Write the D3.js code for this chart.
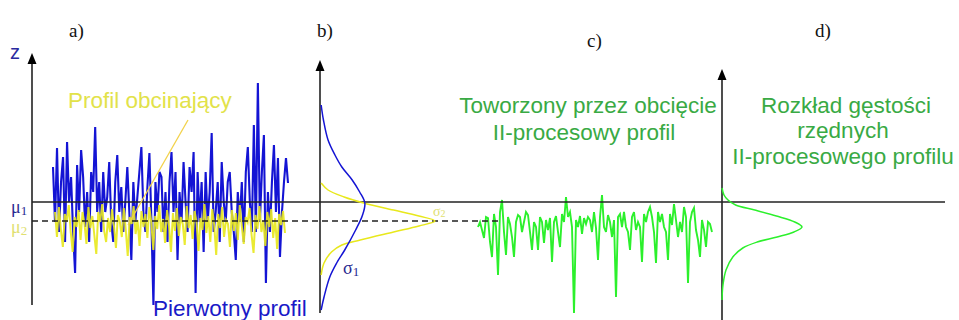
<!DOCTYPE html>
<html><head><meta charset="utf-8">
<script src="https://cdn.jsdelivr.net/npm/d3@7"></script>
<style>body{margin:0;background:#fff}svg{display:block}</style>
</head><body>
<script>
// ---- data (z in arbitrary height units, 0 = mean line mu1) ----
const primaryProfile = [3.5,-2,5.4,-3,2,4.5,-4,6,0,2.5,-3,-7.1,3.7,-1,5.2,2.5,-2.5,1,-4,3,1,7.5,-1,2,-3,3,-1,0.5,4,-2,-4,2,4.7,-1,1.5,-3,0,3.5,-1,-5.8,2,-2,0.5,3,5.5,-1,-3,1.5,4.9,-2,-10.3,2,-1,3,2.5,-3,1,-4,2,5,-1,3,-5.8,1,-2,4,0,-3,3.5,1,5,-9.1,3,-2,2,-5,3,-2,1,6.9,-3,-1,2,-4,4,0,-2,2,3,-1,-3,-5.8,1,-2,2,-4,3,5.5,0,-3,7.7,-3,11.9,-2,3,6.7,-8.1,1,-3,2,5.7,-1,4.4,-5.5,-1,2,4.4,1.9];
const cuttingProfile = [-1.0,-3.5,-0.5,-2.8,-4.5,-1.2,-2.0,-0.3,-3.0,-5.0,-1.5,-2.5,-0.8,-3.8,-1.0,-2.2,-4.2,-0.5,-2.6,-1.4,-3.3,-5.2,-1.0,-2.0,-0.2,-2.9,-4.0,-1.6,-3.0,-0.7,-2.4,-4.6,-1.3,-2.0,-3.5,-0.6,-2.8,-5.4,-1.5,-2.2,-0.4,-3.2,-1.8,-4.4,-0.9,-2.5,-1.2,-3.6,-0.5,-2.1,-4.8,-1.4,-2.7,-0.3,-3.0,-1.7,-4.1,-0.8,-2.4,-5.0,-1.1,-2.9,-0.6,-3.4,-1.5,-2.2,-4.3,-0.4,-2.6,-1.3,-3.7,-0.9,-2.0,-4.9,-1.6,-2.8,-0.2,-3.1,-1.4,-4.0,-0.7,-2.3,-5.3,-1.2,-2.6,-0.5,-3.5,-1.8,-2.2,-4.5,-0.8,-2.9,-1.1,-3.8,-0.3,-2.4,-4.2,-1.5,-2.0,-0.6,-3.3,-5.1,-1.3,-2.7,-0.4,-3.0,-1.9,-4.4,-1.0,-2.5,-0.7,-3.6,-1.6,-4.7,-1.2,-2.3,-0.9,-3.1];
const twoProcessProfile = [-2.5,-2.0,-2.8,-3.6,-1.5,-1.6,-4.0,-5.5,-1.2,-2.5,-7.3,-1.0,0.2,-3.0,-5.3,-1.5,-2.2,-3.5,-5.5,-2.0,-1.3,-1.5,-3.0,-2.0,-1.0,-1.3,-3.0,-4.8,-2.0,-2.5,-4.8,-1.5,-2.0,-4.1,-1.8,-2.8,-1.6,-6.0,-2.0,-1.4,-3.0,-4.5,-1.2,-2.0,0.5,-1.5,-1.0,-2.5,-11.1,-1.8,-2.5,-1.4,-3.2,-1.6,-2.2,-1.5,-1.8,-3.0,-1.0,-2.6,-5.8,-1.5,0.7,-2.5,-3.0,-1.3,-2.0,-3.5,-1.8,-9.5,-1.5,-1.2,-2.5,-1.0,-2.5,-3.0,-4.8,-1.5,-1.0,-2.8,-2.0,-2.5,-6.0,-1.2,-2.0,-1.0,-0.5,-1.5,-3.0,-6.1,-1.0,-2.0,-1.2,-2.5,-3.0,-5.8,-1.2,-2.3,-0.2,-1.8,-3.5,-2.0,-3.0,-0.5,-1.5,-8.1,-2.0,-1.0,-0.6,-2.8,-3.8,-5.5,-1.8,-2.8,-4.5,-2.0,-2.2,-3.0];
const mu2 = -1.9;
// densities: [z, relative density]
const densityPrimaryZ = [9.7,8.2,6.2,4.7,3.5,2.2,1.0,-0.1,-1.3,-2.8,-4.8,-6.1,-7.5,-9.5,-10.8];
const densityPrimary  = [0.01,0.03,0.07,0.13,0.19,0.28,0.345,0.39,0.37,0.31,0.215,0.145,0.085,0.035,0.01];
const densityCuttingZ = [1.9,1.2,0.5,-0.1,-0.8,-1.4,-1.9,-2.4,-3.0,-3.8,-4.3,-5.0,-6.1,-7.3];
const densityCutting  = [0.01,0.07,0.21,0.38,0.64,0.86,1.0,0.86,0.64,0.35,0.19,0.10,0.035,0.01];
const densityTwoZ = [1.4,0.7,0.2,-0.3,-0.8,-1.4,-2.0,-2.5,-3.0,-3.5,-4.0,-4.6,-5.5,-6.8,-8.3,-9.8];
const densityTwo  = [0.0,0.025,0.075,0.17,0.41,0.68,0.91,1.0,0.9,0.69,0.44,0.26,0.135,0.05,0.012,0.0];
const panelLabels = ["a)","b)","c)","d)"];

// ---- drawing ----
const W=959,H=320;
const svg=d3.select("body").append("svg").attr("width",W).attr("height",H);
const y=d3.scaleLinear().domain([-10,15]).range([302,52]);
const BLUE="#1414d4", YEL="#e8e81c", GREEN="#2cf02c", TGREEN="#39aa44", DARK="#222";

const serif="'Liberation Serif','Times New Roman',serif";
const sans="'Liberation Sans',Arial,sans-serif";
const labelPos=[[69,37],[317,37],[587,47],[815,37]];
panelLabels.forEach((t,i)=>svg.append("text").attr("x",labelPos[i][0]).attr("y",labelPos[i][1])
  .attr("font-family",serif).attr("font-size",19).attr("fill","#111").text(t));

function vAxis(x,top,bottom){
  svg.append("line").attr("x1",x).attr("x2",x).attr("y1",top+8).attr("y2",bottom).attr("stroke",DARK).attr("stroke-width",1.6);
  svg.append("path").attr("d",`M${x},${top}L${x-4.5},${top+11}L${x+4.5},${top+11}Z`).attr("fill","#000");
}
vAxis(32,53,305); vAxis(320,60,313); vAxis(722,69,320);
svg.append("text").attr("x",10).attr("y",59).attr("font-family",sans).attr("font-size",20).attr("fill","#2a2aa0").text("z");

// profiles
const xA=d3.scaleLinear().domain([0,primaryProfile.length-1]).range([53,288]);
const xY=d3.scaleLinear().domain([0,cuttingProfile.length-1]).range([55,285]);
const xC=d3.scaleLinear().domain([0,twoProcessProfile.length-1]).range([478,712]);
const line=(xs)=>d3.line().x((d,i)=>xs(i)).y(d=>y(d));
svg.append("path").datum(primaryProfile).attr("d",line(xA)).attr("fill","none").attr("stroke",BLUE).attr("stroke-width",2.1);
svg.append("path").datum(cuttingProfile).attr("d",line(xY)).attr("fill","none").attr("stroke",YEL).attr("stroke-width",2).attr("opacity",0.9);
svg.append("path").datum(twoProcessProfile).attr("d",line(xC)).attr("fill","none").attr("stroke",GREEN).attr("stroke-width",1.9);

// mean lines
svg.append("line").attr("x1",32).attr("x2",945).attr("y1",y(0)).attr("y2",y(0)).attr("stroke",DARK).attr("stroke-width",1.4);
svg.append("line").attr("x1",32).attr("x2",498).attr("y1",y(mu2)).attr("y2",y(mu2)).attr("stroke",DARK).attr("stroke-width",1.4).attr("stroke-dasharray","6,4");

const mu1t=svg.append("text").attr("x",11).attr("y",y(0)+11).attr("font-family",serif).attr("font-size",18).attr("fill","#2a2a90");
mu1t.append("tspan").text("μ"); mu1t.append("tspan").attr("font-size",13).attr("dy",2).text("1");
const mu2t=svg.append("text").attr("x",11).attr("y",y(mu2)+12).attr("font-family",serif).attr("font-size",18).attr("fill","#e0e070");
mu2t.append("tspan").text("μ"); mu2t.append("tspan").attr("font-size",13).attr("dy",2).text("2");

// densities
const xB=d3.scaleLinear().domain([0,1]).range([320,435]);
const xD=d3.scaleLinear().domain([0,1]).range([722,802]);
const dline=(xs)=>d3.line().x(d=>xs(d[1])).y(d=>y(d[0])).curve(d3.curveCatmullRom);
svg.append("path").datum(d3.zip(densityCuttingZ,densityCutting)).attr("d",dline(xB)).attr("fill","none").attr("stroke",YEL).attr("stroke-width",1.5);
svg.append("path").datum(d3.zip(densityPrimaryZ,densityPrimary)).attr("d",dline(xB)).attr("fill","none").attr("stroke",BLUE).attr("stroke-width",1.5);
svg.append("path").datum(d3.zip(densityTwoZ,densityTwo)).attr("d",dline(xD)).attr("fill","none").attr("stroke",GREEN).attr("stroke-width",1.5);

const s1=svg.append("text").attr("x",343).attr("y",274).attr("font-family",serif).attr("font-size",18).attr("fill","#2a2a90");
s1.append("tspan").text("σ"); s1.append("tspan").attr("font-size",13).attr("dy",2).text("1");
const s2=svg.append("text").attr("x",433).attr("y",216).attr("font-family",serif).attr("font-size",14).attr("fill","#e0e070");
s2.append("tspan").text("σ"); s2.append("tspan").attr("font-size",10).attr("dy",1).text("2");

// annotations
svg.append("line").attr("x1",188).attr("y1",120).attr("x2",128).attr("y2",225).attr("stroke","#f2d24a").attr("stroke-width",1.3);
svg.append("text").attr("x",68).attr("y",108).attr("font-family",sans).attr("font-size",22.5).attr("fill","#e2e24a").text("Profil obcinający");
svg.append("text").attr("x",153).attr("y",316).attr("font-family",sans).attr("font-size",22.5).attr("fill","#1a1ac8").text("Pierwotny profil");
const gt=(x,yy,t)=>svg.append("text").attr("x",x).attr("y",yy).attr("text-anchor","middle").attr("font-family",sans).attr("font-size",22.5).attr("fill",TGREEN).text(t);
gt(588,113,"Toworzony przez obcięcie"); gt(584,140,"II-procesowy profil");
gt(846,113,"Rozkład gęstości"); gt(843,138,"rzędnych"); gt(843,164,"II-procesowego profilu");
</script>
</body></html>
